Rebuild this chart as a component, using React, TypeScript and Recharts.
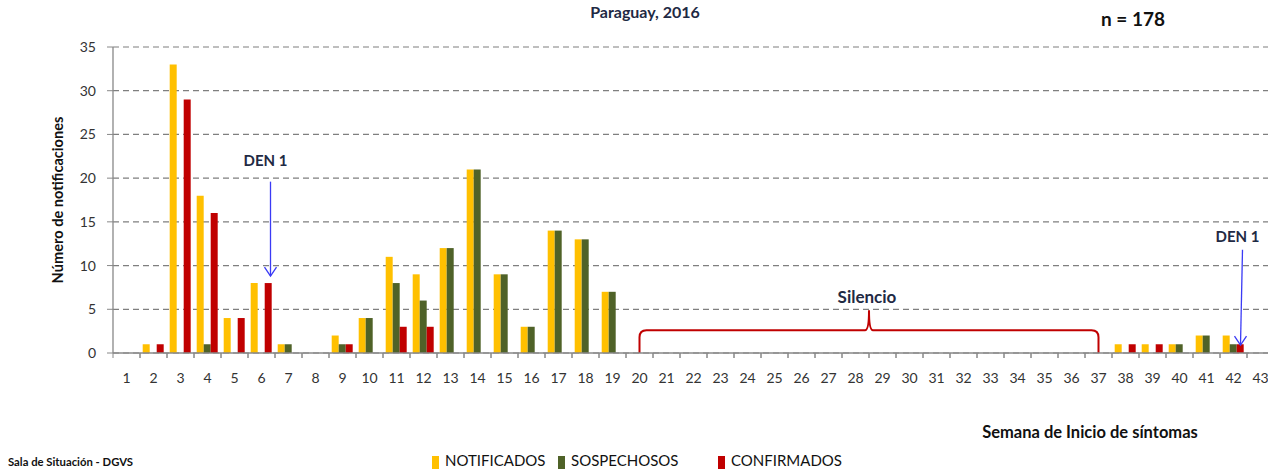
import React from 'react';
import { BarChart, Bar, XAxis, YAxis, CartesianGrid, ReferenceLine } from 'recharts';

const weeks = [
  '1', '2', '3', '4', '5', '6', '7', '8', '9', '10', '11', '12', '13', '14', '15',
  '16', '17', '18', '19', '20', '21', '22', '23', '24', '25', '26', '27', '28', '29',
  '30', '31', '32', '33', '34', '35', '36', '37', '38', '39', '40', '41', '42', '43',
];

const notificados = [
  0, 1, 33, 18, 4, 8, 1, 0, 2, 4, 11, 9, 12, 21, 9, 3, 14, 13, 7,
  0, 0, 0, 0, 0, 0, 0, 0, 0, 0, 0, 0, 0, 0, 0, 0, 0, 0,
  1, 1, 1, 2, 2, 0,
];

const sospechosos = [
  0, 0, 0, 1, 0, 0, 1, 0, 1, 4, 8, 6, 12, 21, 9, 3, 14, 13, 7,
  0, 0, 0, 0, 0, 0, 0, 0, 0, 0, 0, 0, 0, 0, 0, 0, 0, 0,
  0, 0, 1, 2, 1, 0,
];

const confirmados = [
  0, 1, 29, 16, 4, 8, 0, 0, 1, 0, 3, 3, 0, 0, 0, 0, 0, 0, 0,
  0, 0, 0, 0, 0, 0, 0, 0, 0, 0, 0, 0, 0, 0, 0, 0, 0, 0,
  1, 1, 0, 0, 1, 0,
];

const yTicks = [0, 5, 10, 15, 20, 25, 30, 35];

const series = [
  { key: 'notificados', name: 'NOTIFICADOS', color: '#FFC000' },
  { key: 'sospechosos', name: 'SOSPECHOSOS', color: '#4F6228' },
  { key: 'confirmados', name: 'CONFIRMADOS', color: '#C00000' },
];

const data = weeks.map((w, i) => ({
  week: w,
  notificados: notificados[i],
  sospechosos: sospechosos[i],
  confirmados: confirmados[i],
}));

const FONT = 'Lato, "Open Sans", sans-serif';
const AXIS = '#888888';
const BLUE = '#3B3BF5';
const DARK = '#1F2A44';

// category ticks: label in the middle, tick marks on the band edges (Excel style)
const WeekTick = (props: any) => {
  const { x, y, payload } = props;
  const half = payload.offset || 0;
  return (
    <g>
      <line x1={x - half} y1={y - 5} x2={x - half} y2={y} stroke={AXIS} />
      <line x1={x + half} y1={y - 5} x2={x + half} y2={y} stroke={AXIS} />
      <text x={x} y={y + 25} textAnchor="middle" fontSize={14} fill="#333" fontFamily={FONT}>
        {payload.value}
      </text>
    </g>
  );
};

const arrowShape = (dx: number, dxTop: number, textGap: number) => (p: any) => {
  const xt = p.x1 + dx + dxTop;
  const xb = p.x2 + dx;
  return (
    <g>
      <text x={xt - 5} y={p.y1 - textGap} textAnchor="middle" fontSize={15} fontWeight={700}
        fill={DARK} fontFamily={FONT}>DEN 1</text>
      <line x1={xt} y1={p.y1} x2={xb} y2={p.y2} stroke={BLUE} strokeWidth={1.3} />
      <polyline points={`${xb - 6},${p.y2 - 9} ${xb},${p.y2} ${xb + 6},${p.y2 - 9}`}
        fill="none" stroke={BLUE} strokeWidth={1.3} />
    </g>
  );
};

const braceShape = (p: any) => {
  const { x1, y1, x2, y2 } = p;
  const xm = (x1 + x2) / 2;
  const r = 7;
  const d = `M ${x1} ${y1} L ${x1} ${y2 + r} Q ${x1} ${y2} ${x1 + r} ${y2} L ${xm - 4} ${y2}
    Q ${xm} ${y2} ${xm} ${y2 - 20} Q ${xm} ${y2} ${xm + 4} ${y2} L ${x2 - r} ${y2}
    Q ${x2} ${y2} ${x2} ${y2 + r} L ${x2} ${y1}`;
  return (
    <g>
      <path d={d} fill="none" stroke="#C00000" strokeWidth={2} />
      <text x={xm - 2} y={y2 - 27} textAnchor="middle" fontSize={17} fontWeight={700}
        fill={DARK} fontFamily={FONT}>Silencio</text>
    </g>
  );
};

const App: React.FC = () => {
  return (
    <div style={{ position: 'absolute', left: 0, top: 0, width: 1268, height: 470, overflow: 'hidden', background: '#fff' }}>
      <BarChart
        width={1280}
        height={470}
        data={data}
        margin={{ top: 47, right: 6, left: 0, bottom: 87 }}
        barCategoryGap="10%"
        barGap={0}
        style={{ position: 'absolute', left: 0, top: 0 }}
      >
        <CartesianGrid vertical={false} stroke="#7F7F7F" strokeWidth={1.2} strokeDasharray="6 4" />
        <XAxis
          dataKey="week"
          height={30}
          axisLine={{ stroke: AXIS, strokeWidth: 1.3 }}
          tickLine={false}
          tickSize={5}
          tickMargin={0}
          interval={0}
          tick={<WeekTick />}
        />
        <YAxis
          width={113}
          domain={[0, 35]}
          ticks={yTicks}
          interval={0}
          axisLine={{ stroke: AXIS, strokeWidth: 1.3 }}
          tickLine={{ stroke: AXIS }}
          tickSize={6}
          tickMargin={11}
          tick={{ fontSize: 14, fill: '#333', fontFamily: FONT }}
        />
        {series.map((s) => (
          <Bar key={s.key} dataKey={s.key} name={s.name} fill={s.color} isAnimationActive={false} />
        ))}
        <ReferenceLine segment={[{ x: '6', y: 19.6 }, { x: '6', y: 8.8 }]} shape={arrowShape(9, 0, 16)} />
        <ReferenceLine segment={[{ x: '42', y: 11.8 }, { x: '42', y: 0.9 }]} shape={arrowShape(7, 2, 8)} />
        <ReferenceLine segment={[{ x: '20', y: 0 }, { x: '37', y: 2.6 }]} shape={braceShape} />
      </BarChart>

      <svg width={1268} height={470} style={{ position: 'absolute', left: 0, top: 0, pointerEvents: 'none' }}>
        <text x={645} y={18} textAnchor="middle" fontSize={16} fontWeight={700} fill={DARK} fontFamily={FONT}>
          Paraguay, 2016
        </text>
        <text x={1133} y={26} textAnchor="middle" fontSize={19} fontWeight={700} fill="#111" fontFamily={FONT}>
          n = 178
        </text>
        <text x={0} y={0} transform="translate(63,200) rotate(-90)" textAnchor="middle" fontSize={14.6}
          fontWeight={700} fill="#111" fontFamily={FONT}>
          Número de notificaciones
        </text>
        <text x={1090} y={438} textAnchor="middle" fontSize={16.5} fontWeight={700} fill="#111" fontFamily={FONT}>
          Semana de Inicio de síntomas
        </text>
        <text x={8} y={466} fontSize={11.3} fontWeight={700} fill="#111" fontFamily={FONT}>
          Sala de Situación - DGVS
        </text>
        {series.map((s, i) => {
          const lx = [432, 558, 718][i];
          return (
            <g key={s.key}>
              <rect x={lx} y={456} width={7} height={13} fill={s.color} />
              <text x={lx + 13} y={466} fontSize={15} fill="#111" fontFamily={FONT}>{s.name}</text>
            </g>
          );
        })}
      </svg>
    </div>
  );
};

export default App;
